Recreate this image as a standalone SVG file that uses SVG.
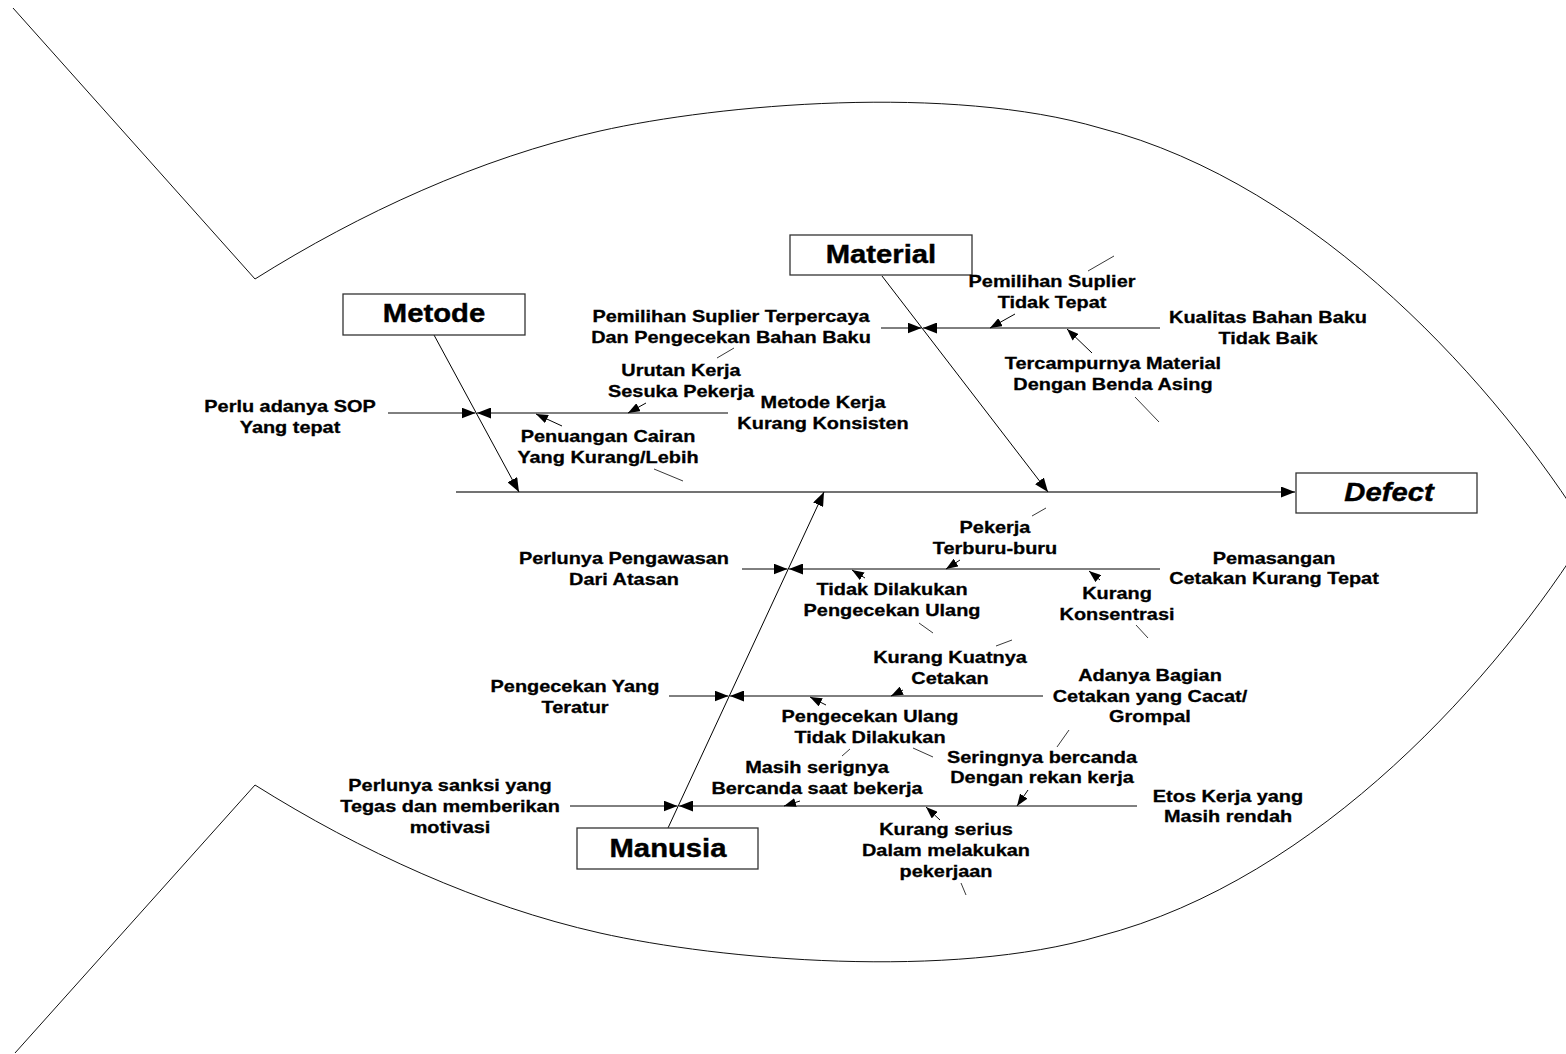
<svg xmlns="http://www.w3.org/2000/svg" width="1566" height="1054" viewBox="0 0 1566 1054">
  <defs>
    <marker id="ah" markerUnits="userSpaceOnUse" markerWidth="14" markerHeight="11" refX="14" refY="5.5" orient="auto">
      <path d="M0,0 L14,5.5 L0,11 z" fill="#000"/>
    </marker>
    <marker id="ahs" markerUnits="userSpaceOnUse" markerWidth="12" markerHeight="9" refX="12" refY="4.5" orient="auto">
      <path d="M0,0 L12,4.5 L0,9 z" fill="#000"/>
    </marker>
    <style>
      .t { font-family: "Liberation Sans", Arial, sans-serif; font-weight: bold; font-size: 17px; text-anchor: middle; fill: #000; stroke: #000; stroke-width: 0.3; }
      .h { font-size: 25px; stroke-width: 0.4; }
      .i { font-style: italic; }
      .box { fill: #fff; stroke: #333; stroke-width: 1.3; }
      .ln { fill: none; stroke: #000; stroke-width: 1; }
      .spine { fill: none; stroke: #444; stroke-width: 1.6; }
      .a { marker-end: url(#ah); }
      .as { marker-end: url(#ahs); }
      .tl { fill: none; stroke: #222; stroke-width: 0.9; }
      .fish { fill: none; stroke: #111; stroke-width: 1; }
    </style>
  </defs>
  <rect width="1566" height="1054" fill="#fff"/>

  <!-- fish outline: tail and body -->
  <g id="outline">
    <path class="fish" d="M13,8 L255,279 C360,213 480,158 600,131 C720,104 950,84 1100,128 C1320,185 1500,390 1588,532"/>
    <path class="fish" d="M15,1053 L255,785 C360,851 480,906 600,933 C720,960 950,980 1100,936 C1320,879 1500,674 1588,532"/>
  </g>

  <!-- connectors -->
  <g id="connectors">
    <!-- spine and main bones -->
    <path class="spine a" d="M456,492 H1295"/>
    <path class="ln a" d="M434,335 L519,492"/>
    <path class="ln a" d="M882,276 L1048,492"/>
    <path class="ln a" d="M668,828 L824,492"/>

    <!-- branches: solution from the left, cause from the right -->
    <path class="ln a" d="M388,413 H475.5"/>
    <path class="ln a" d="M728,413 H477"/>
    <path class="ln a" d="M881,328 H921.5"/>
    <path class="ln a" d="M1160,328 H923"/>
    <path class="ln a" d="M742,569 H787.5"/>
    <path class="ln a" d="M1160,569 H789"/>
    <path class="ln a" d="M669,696 H728.5"/>
    <path class="ln a" d="M1043,696 H730"/>
    <path class="ln a" d="M570,806 H677.5"/>
    <path class="ln a" d="M1137,806 H679"/>

    <!-- sub-causes -->
    <path class="ln as" d="M1015,314 L990,328"/>
    <path class="ln as" d="M1092,353 L1067,329"/>
    <path class="ln as" d="M646,403 L628,413"/>
    <path class="ln as" d="M562,426 L536,414"/>
    <path class="ln as" d="M960,560 L946,569"/>
    <path class="ln as" d="M865,578 L852,570"/>
    <path class="ln as" d="M1100,580 L1089,571"/>
    <path class="ln as" d="M903,690 L891,696"/>
    <path class="ln as" d="M826,705 L810,697"/>
    <path class="ln as" d="M800,801 L784,806"/>
    <path class="ln as" d="M940,820 L926,807"/>
    <path class="ln as" d="M1028,790 L1017,806"/>

    <!-- label leader stubs -->
    <path class="tl" d="M1088,271 L1114,256"/>
    <path class="tl" d="M1135,397 L1159,422"/>
    <path class="tl" d="M717,358 L734,348"/>
    <path class="tl" d="M654,469 L683,481"/>
    <path class="tl" d="M1032,516 L1046,508"/>
    <path class="tl" d="M919,623 L933,633"/>
    <path class="tl" d="M1136,625 L1148,638"/>
    <path class="tl" d="M996,646 L1012,640"/>
    <path class="tl" d="M1057,747 L1069,730"/>
    <path class="tl" d="M913,748 L933,757"/>
    <path class="tl" d="M842,756 L850,749"/>
    <path class="tl" d="M961,883 L966,895"/>
  </g>

  <!-- category boxes -->
  <g id="material">
    <rect class="box" x="790" y="235" width="182" height="40"/>
    <text class="t h" transform="translate(881,263) scale(1.17,1)">Material</text>
  </g>
  <g id="metode">
    <rect class="box" x="343" y="294" width="182" height="41"/>
    <text class="t h" transform="translate(434,322) scale(1.17,1)">Metode</text>
  </g>
  <g id="defect">
    <rect class="box" x="1296" y="473" width="181" height="40"/>
    <text class="t h i" transform="translate(1389,501) scale(1.17,1)">Defect</text>
  </g>
  <g id="manusia">
    <rect class="box" x="577" y="828" width="181" height="41"/>
    <text class="t h" transform="translate(668,857) scale(1.17,1)">Manusia</text>
  </g>

  <!-- labels -->
  <g id="lbl-suplier-tidak-tepat">
    <text class="t" transform="translate(1052,287) scale(1.17,1)"><tspan x="0">Pemilihan Suplier</tspan><tspan x="0" dy="21">Tidak Tepat</tspan></text>
  </g>
  <g id="lbl-suplier-terpercaya">
    <text class="t" transform="translate(731,322) scale(1.17,1)"><tspan x="0">Pemilihan Suplier Terpercaya</tspan><tspan x="0" dy="21">Dan Pengecekan Bahan Baku</tspan></text>
  </g>
  <g id="lbl-kualitas">
    <text class="t" transform="translate(1268,323) scale(1.17,1)"><tspan x="0">Kualitas Bahan Baku</tspan><tspan x="0" dy="21">Tidak Baik</tspan></text>
  </g>
  <g id="lbl-tercampur">
    <text class="t" transform="translate(1113,369) scale(1.17,1)"><tspan x="0">Tercampurnya Material</tspan><tspan x="0" dy="21">Dengan Benda Asing</tspan></text>
  </g>
  <g id="lbl-urutan">
    <text class="t" transform="translate(681,376) scale(1.17,1)"><tspan x="0">Urutan Kerja</tspan><tspan x="0" dy="21">Sesuka Pekerja</tspan></text>
  </g>
  <g id="lbl-metode-kerja">
    <text class="t" transform="translate(823,408) scale(1.17,1)"><tspan x="0">Metode Kerja</tspan><tspan x="0" dy="21">Kurang Konsisten</tspan></text>
  </g>
  <g id="lbl-sop">
    <text class="t" transform="translate(290,412) scale(1.17,1)"><tspan x="0">Perlu adanya SOP</tspan><tspan x="0" dy="21">Yang tepat</tspan></text>
  </g>
  <g id="lbl-penuangan">
    <text class="t" transform="translate(608,442) scale(1.17,1)"><tspan x="0">Penuangan Cairan</tspan><tspan x="0" dy="21">Yang Kurang/Lebih</tspan></text>
  </g>
  <g id="lbl-terburu">
    <text class="t" transform="translate(995,533) scale(1.17,1)"><tspan x="0">Pekerja</tspan><tspan x="0" dy="21">Terburu-buru</tspan></text>
  </g>
  <g id="lbl-pengawasan">
    <text class="t" transform="translate(624,564) scale(1.17,1)"><tspan x="0">Perlunya Pengawasan</tspan><tspan x="0" dy="21">Dari Atasan</tspan></text>
  </g>
  <g id="lbl-pemasangan">
    <text class="t" transform="translate(1274,564) scale(1.17,1)"><tspan x="0">Pemasangan</tspan><tspan x="0" dy="20">Cetakan Kurang Tepat</tspan></text>
  </g>
  <g id="lbl-tidak-dicek">
    <text class="t" transform="translate(892,595) scale(1.17,1)"><tspan x="0">Tidak Dilakukan</tspan><tspan x="0" dy="21">Pengecekan Ulang</tspan></text>
  </g>
  <g id="lbl-konsentrasi">
    <text class="t" transform="translate(1117,599) scale(1.17,1)"><tspan x="0">Kurang</tspan><tspan x="0" dy="21">Konsentrasi</tspan></text>
  </g>
  <g id="lbl-kuat">
    <text class="t" transform="translate(950,663) scale(1.17,1)"><tspan x="0">Kurang Kuatnya</tspan><tspan x="0" dy="21">Cetakan</tspan></text>
  </g>
  <g id="lbl-cacat">
    <text class="t" transform="translate(1150,681) scale(1.17,1)"><tspan x="0">Adanya Bagian</tspan><tspan x="0" dy="21">Cetakan yang Cacat/</tspan><tspan x="0" dy="20">Grompal</tspan></text>
  </g>
  <g id="lbl-teratur">
    <text class="t" transform="translate(575,692) scale(1.17,1)"><tspan x="0">Pengecekan Yang</tspan><tspan x="0" dy="21">Teratur</tspan></text>
  </g>
  <g id="lbl-cek-ulang">
    <text class="t" transform="translate(870,722) scale(1.17,1)"><tspan x="0">Pengecekan Ulang</tspan><tspan x="0" dy="21">Tidak Dilakukan</tspan></text>
  </g>
  <g id="lbl-bercanda-rekan">
    <text class="t" transform="translate(1042,763) scale(1.17,1)"><tspan x="0">Seringnya bercanda</tspan><tspan x="0" dy="20">Dengan rekan kerja</tspan></text>
  </g>
  <g id="lbl-bercanda-kerja">
    <text class="t" transform="translate(817,773) scale(1.17,1)"><tspan x="0">Masih serignya</tspan><tspan x="0" dy="21">Bercanda saat bekerja</tspan></text>
  </g>
  <g id="lbl-sanksi">
    <text class="t" transform="translate(450,791) scale(1.17,1)"><tspan x="0">Perlunya sanksi yang</tspan><tspan x="0" dy="21">Tegas dan memberikan</tspan><tspan x="0" dy="21">motivasi</tspan></text>
  </g>
  <g id="lbl-etos">
    <text class="t" transform="translate(1228,802) scale(1.17,1)"><tspan x="0">Etos Kerja yang</tspan><tspan x="0" dy="20">Masih rendah</tspan></text>
  </g>
  <g id="lbl-serius">
    <text class="t" transform="translate(946,835) scale(1.17,1)"><tspan x="0">Kurang serius</tspan><tspan x="0" dy="21">Dalam melakukan</tspan><tspan x="0" dy="21">pekerjaan</tspan></text>
  </g>
</svg>
